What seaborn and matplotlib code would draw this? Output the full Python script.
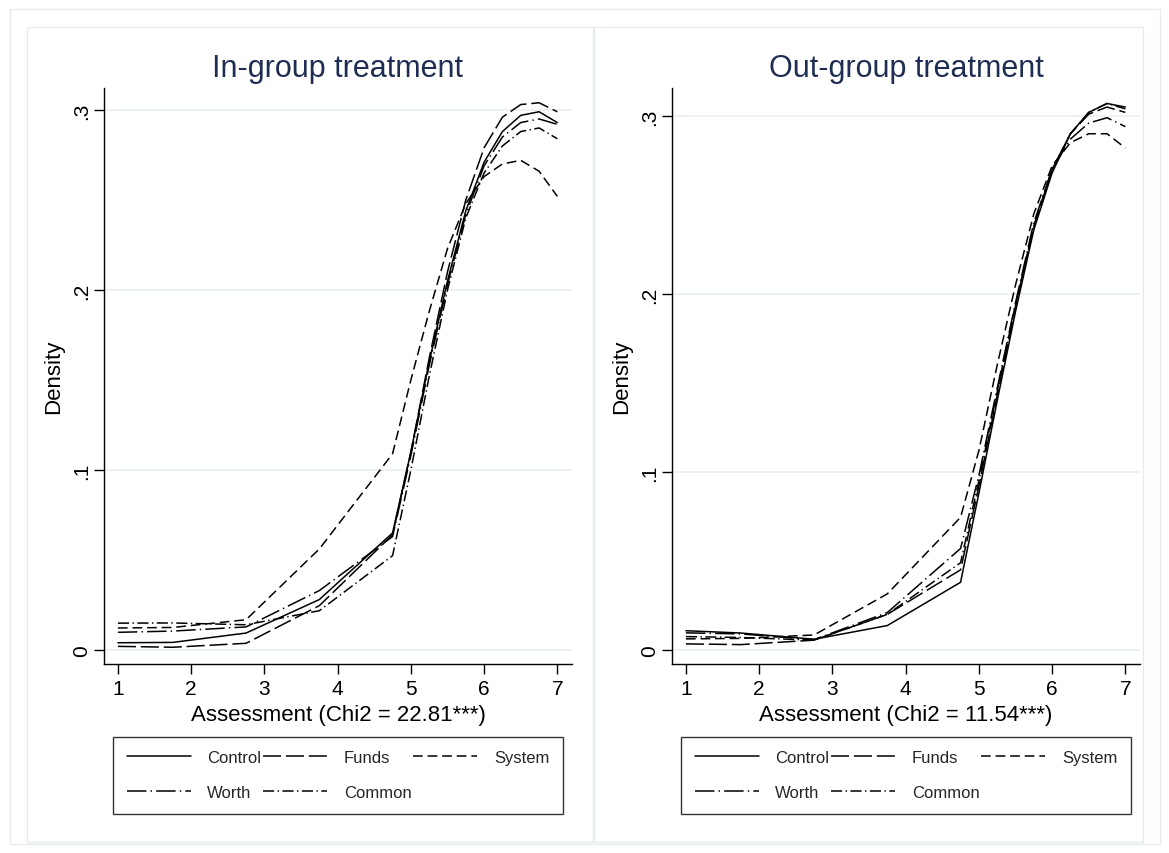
import numpy as np
import pandas as pd
import matplotlib
matplotlib.use("Agg")
import matplotlib.pyplot as plt
from matplotlib.patches import Rectangle
import seaborn as sns

# ---------------- data ----------------
x_grid = [1, 1.75, 2.75, 3.75, 4.75, 5.0, 5.25, 5.5, 5.75, 6.0, 6.25, 6.5, 6.75, 7.0]
groups = ["Control", "Funds", "System", "Worth", "Common"]

in_control = [0.0040, 0.0042, 0.0094, 0.0280, 0.0650, 0.110, 0.160, 0.205, 0.244, 0.271, 0.288, 0.297, 0.299, 0.293]
in_funds   = [0.0020, 0.0015, 0.0037, 0.0246, 0.0640, 0.110, 0.162, 0.210, 0.250, 0.279, 0.296, 0.303, 0.304, 0.299]
in_system  = [0.0122, 0.0125, 0.0168, 0.0561, 0.1090, 0.150, 0.188, 0.223, 0.248, 0.263, 0.270, 0.272, 0.266, 0.252]
in_worth   = [0.0098, 0.0105, 0.0128, 0.0330, 0.0630, 0.108, 0.158, 0.203, 0.242, 0.269, 0.285, 0.293, 0.295, 0.292]
in_common  = [0.0149, 0.0150, 0.0140, 0.0218, 0.0524, 0.100, 0.152, 0.200, 0.240, 0.265, 0.280, 0.288, 0.290, 0.284]

out_control = [0.0108, 0.0095, 0.0060, 0.0137, 0.0380, 0.088, 0.140, 0.190, 0.236, 0.268, 0.290, 0.302, 0.307, 0.305]
out_funds   = [0.0034, 0.0030, 0.0055, 0.0200, 0.0450, 0.092, 0.143, 0.193, 0.238, 0.270, 0.290, 0.301, 0.305, 0.302]
out_system  = [0.0062, 0.0065, 0.0084, 0.0315, 0.0745, 0.112, 0.160, 0.205, 0.245, 0.272, 0.285, 0.290, 0.290, 0.282]
out_worth   = [0.0096, 0.0090, 0.0058, 0.0210, 0.0570, 0.098, 0.147, 0.195, 0.240, 0.270, 0.287, 0.296, 0.299, 0.294]
out_common  = [0.0075, 0.0070, 0.0055, 0.0200, 0.0490, 0.095, 0.145, 0.194, 0.238, 0.270, 0.290, 0.302, 0.307, 0.304]

panel_titles = ["In-group treatment", "Out-group treatment"]
x_labels = ["Assessment (Chi2 = 22.81***)", "Assessment (Chi2 = 11.54***)"]
x_ticks = [1, 2, 3, 4, 5, 6, 7]
y_ticks = [0, 0.1, 0.2, 0.3]
y_tick_labels = ["0", ".1", ".2", ".3"]

panels = [
    dict(zip(groups, [in_control, in_funds, in_system, in_worth, in_common])),
    dict(zip(groups, [out_control, out_funds, out_system, out_worth, out_common])),
]

# ---------------- style ----------------
sns.set_theme(style="white")
plt.rcParams["font.family"] = ["Liberation Sans", "DejaVu Sans"]
plt.rcParams["lines.scale_dashes"] = False

styles = {
    "Control": "-",
    "Funds": (0, (13, 3.5)),
    "System": (0, (7, 3.5)),
    "Worth": (0, (14, 3, 1, 3)),
    "Common": (0, (8, 2.5, 1, 2.5)),
}

W, H = 1169, 854
fig = plt.figure(figsize=(W / 100, H / 100), dpi=100)
fig.patch.set_facecolor("white")

def fx(px):
    return px / W

def fy(py):
    return 1 - py / H

# panel borders
border_col = "#E6EBEE"
fig.add_artist(Rectangle((fx(10), fy(845)), fx(1160) - fx(10), fy(10) - fy(845),
                         transform=fig.transFigure, fill=False, ec=border_col, lw=1.0))
fig.add_artist(Rectangle((fx(27), fy(843)), fx(593) - fx(27), fy(28) - fy(843),
                         transform=fig.transFigure, fill=False, ec=border_col, lw=1.0))
fig.add_artist(Rectangle((fx(594), fy(843)), fx(1143) - fx(594), fy(28) - fy(843),
                         transform=fig.transFigure, fill=False, ec=border_col, lw=1.0))

axes_px = [(104, 572), (672, 1140)]
ylims = [(-0.0078, 0.3122), (-0.0079, 0.3157)]

for i, (x0, x1) in enumerate(axes_px):
    ax = fig.add_axes([fx(x0), fy(665), fx(x1) - fx(x0), fy(89) - fy(665)])
    ax.set_facecolor("white")
    for y in y_ticks:
        ax.axhline(y, color="#EAF1F3", lw=1.3, zorder=0)
    df = pd.DataFrame({"x": x_grid * len(groups),
                       "y": sum([panels[i][g] for g in groups], []),
                       "group": sum([[g] * len(x_grid) for g in groups], [])})
    for g in groups:
        sub = df[df["group"] == g]
        sns.lineplot(data=sub, x="x", y="y", ax=ax, color="black", lw=1.1,
                     linestyle=styles[g], label=g, legend=False, errorbar=None)
    ax.set_xlim(0.81, 7.2)
    ax.set_ylim(*ylims[i])
    ax.set_xticks(x_ticks)
    ax.set_xticklabels([str(t) for t in x_ticks])
    ax.set_yticks(y_ticks)
    ax.set_yticklabels(y_tick_labels, rotation=90, va="center")
    ax.tick_params(axis="both", direction="out", length=7, width=1.0, color="black",
                   labelsize=15, labelcolor="black", bottom=True, left=True, pad=4)
    ax.tick_params(axis="y", pad=2)
    for s in ["top", "right"]:
        ax.spines[s].set_visible(False)
    for s in ["left", "bottom"]:
        ax.spines[s].set_color("black")
        ax.spines[s].set_linewidth(1.0)
    ax.set_xlabel(x_labels[i], fontsize=16, color="black", labelpad=4)
    ax.set_ylabel("Density", fontsize=16, color="black")
    ax.yaxis.set_label_coords((64 - 104) / 468, 0.5)
    ax.grid(False)

    cx = (x0 + x1) / 2
    fig.text(fx(cx), fy(69), panel_titles[i], ha="center", va="center",
             fontsize=22, color="#1F2D52")

    lines = {l.get_label(): l for l in ax.get_lines() if l.get_label() in groups}
    order = ["Control", "Worth", "Funds", "Common", "System"]
    leg = ax.legend([lines[o] for o in order], order, ncol=3,
                    loc="upper center", bbox_to_anchor=(fx(cx), fy(738)),
                    bbox_transform=fig.transFigure, fontsize=12, frameon=True,
                    fancybox=False, edgecolor="black", handlelength=3.85,
                    handletextpad=1.0, columnspacing=0.1, borderpad=0.8,
                    labelspacing=1.2, borderaxespad=0)
    leg.get_frame().set_linewidth(1.0)

fig.savefig("out.png", dpi=100, facecolor="white")
